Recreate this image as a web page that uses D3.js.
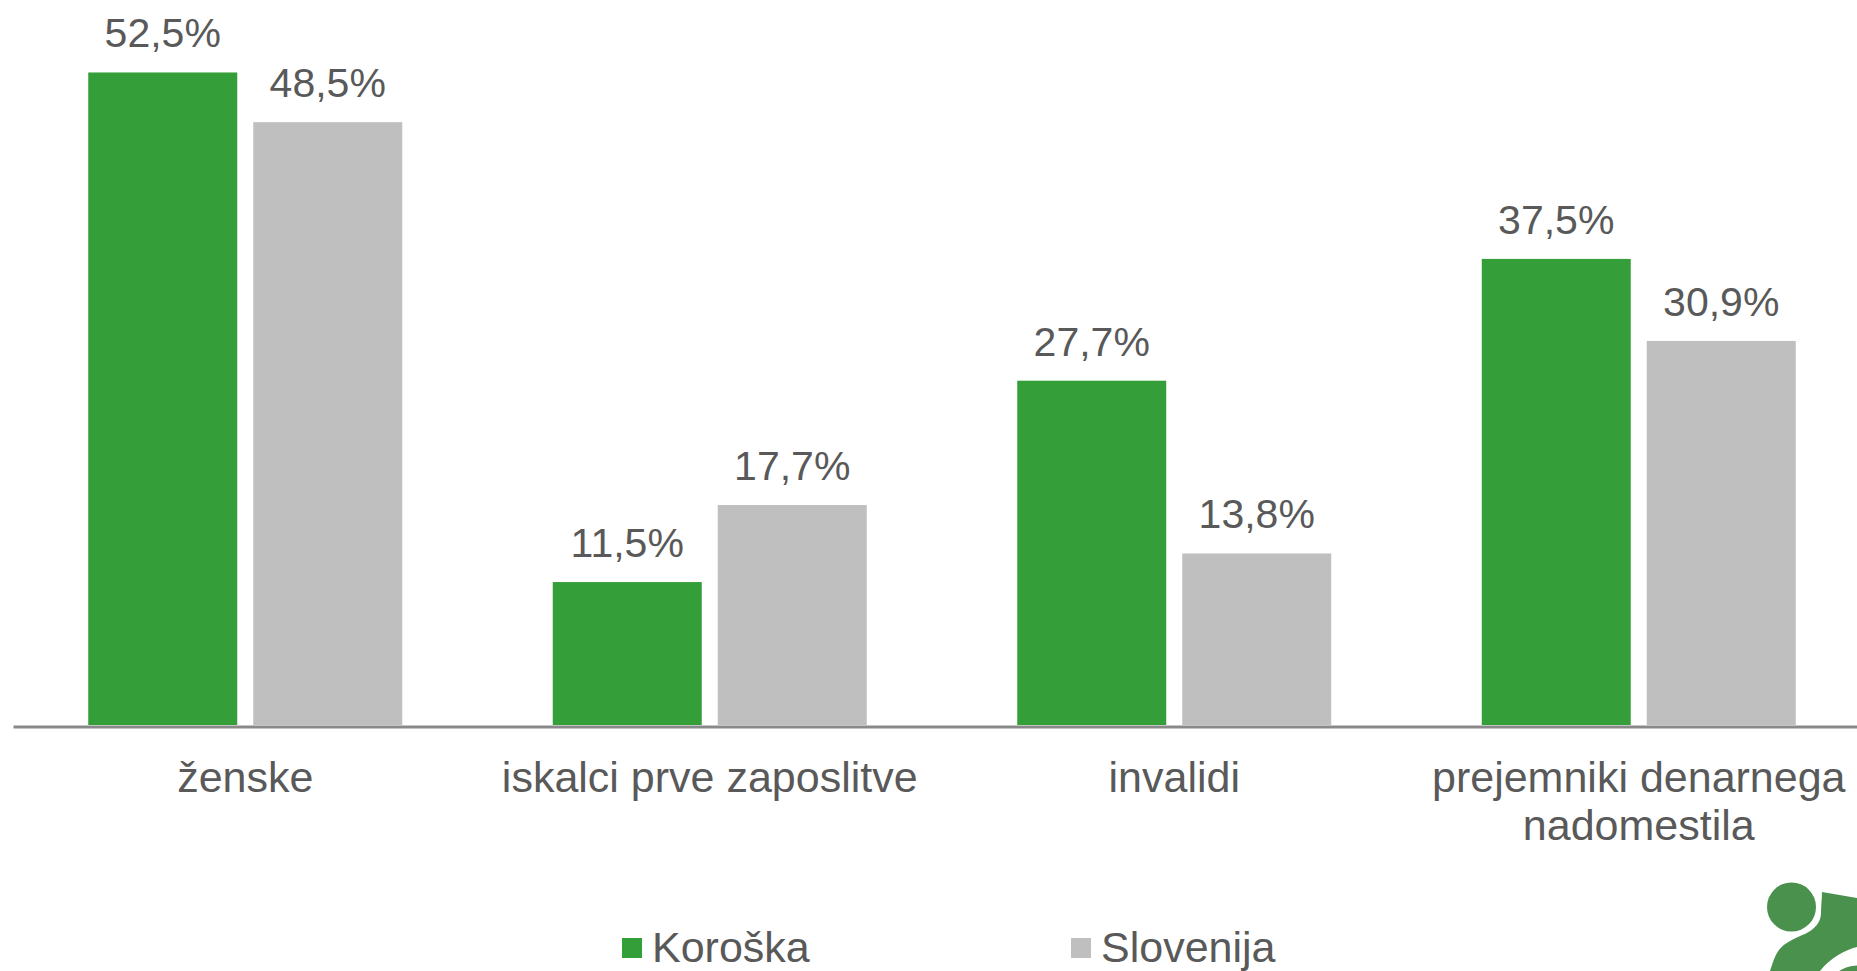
<!DOCTYPE html>
<html>
<head>
<meta charset="utf-8">
<script src="https://cdn.jsdelivr.net/npm/d3@7"></script>
<style>
  html, body { margin: 0; padding: 0; background: #fff; }
  svg { display: block; }
  text { font-family: "Liberation Sans", Arial, sans-serif; fill: #595959; }
</style>
</head>
<body>
<div id="wrapper"></div>
<script>
// data
const categories = ["ženske", "iskalci prve zaposlitve", "invalidi", "prejemniki denarnega nadomestila"];
const seriesNames = ["Koroška", "Slovenija"];
const koroska = [52.5, 11.5, 27.7, 37.5];
const slovenija = [48.5, 17.7, 13.8, 30.9];
const seriesColors = ["#349e38", "#bfbfbf"];

function drawChart() {
    const width = 1857, height = 971;
    const axisY = 726.5;

    const wrapper = d3.select("#wrapper")
        .append("svg")
        .attr("width", width)
        .attr("height", height);

    // table built from the arrays
    const table = categories.map((c, i) => ({
        category: c,
        values: [
            { key: seriesNames[0], value: koroska[i] },
            { key: seriesNames[1], value: slovenija[i] }
        ]
    }));

    // scales
    const xScale = d3.scaleBand()
        .domain(categories)
        .range([13, 1871])
        .paddingInner(0.324)
        .paddingOuter(0.162);

    const x1Scale = d3.scaleBand()
        .domain(seriesNames)
        .range([0, xScale.bandwidth()])
        .paddingInner(0.097);

    const yScale = d3.scaleLinear()
        .domain([0, 58.25])
        .range([725, 1]);

    const colorScale = d3.scaleOrdinal().domain(seriesNames).range(seriesColors);

    const locale = d3.formatLocale({ decimal: ",", thousands: ".", grouping: [3], currency: ["", "€"] });
    const fmt = locale.format(".1f");

    // bars
    const groups = wrapper.selectAll("g.group")
        .data(table)
        .join("g")
        .attr("class", "group")
        .attr("transform", d => `translate(${xScale(d.category)},0)`);

    groups.selectAll("rect")
        .data(d => d.values)
        .join("rect")
        .attr("x", d => x1Scale(d.key))
        .attr("y", d => yScale(d.value))
        .attr("width", x1Scale.bandwidth())
        .attr("height", d => yScale(0) - yScale(d.value))
        .attr("fill", d => colorScale(d.key));

    groups.selectAll("text.val")
        .data(d => d.values)
        .join("text")
        .attr("class", "val")
        .attr("x", d => x1Scale(d.key) + x1Scale.bandwidth() / 2)
        .attr("y", d => yScale(d.value) - 25)
        .attr("text-anchor", "middle")
        .style("font-size", "41px")
        .text(d => fmt(d.value) + "%");

    // x axis
    const xAxis = d3.axisBottom(xScale).tickSize(0).tickSizeOuter(0);
    const axisG = wrapper.append("g")
        .attr("transform", `translate(0,${axisY})`)
        .call(xAxis);

    axisG.select(".domain")
        .attr("stroke", "#898989")
        .attr("stroke-width", 3);

    axisG.selectAll(".tick text")
        .attr("y", 0)
        .attr("dy", 0)
        .style("font-size", "43px")
        .style("font-family", "'Liberation Sans', Arial, sans-serif")
        .attr("fill", "#595959")
        .call(wrap, xScale.step() - 10);

    function wrap(texts, maxWidth) {
        texts.each(function () {
            const text = d3.select(this);
            const words = text.text().split(/\s+/);
            text.text(null);
            let line = [];
            let lineNo = 0;
            let tspan = text.append("tspan").attr("x", 0).attr("y", 65.5);
            words.forEach(w => {
                line.push(w);
                tspan.text(line.join(" "));
                if (tspan.node().getComputedTextLength() > maxWidth && line.length > 1) {
                    line.pop();
                    tspan.text(line.join(" "));
                    line = [w];
                    lineNo++;
                    tspan = text.append("tspan").attr("x", 0).attr("y", 65.5 + lineNo * 48).text(w);
                }
            });
        });
    }

    // legend
    const legendX = [622, 1071];
    const legend = wrapper.selectAll("g.legend")
        .data(seriesNames)
        .join("g")
        .attr("class", "legend")
        .attr("transform", (d, i) => `translate(${legendX[i]},938)`);

    legend.append("rect")
        .attr("width", 20)
        .attr("height", 20)
        .attr("fill", d => colorScale(d));

    legend.append("text")
        .attr("x", 30)
        .attr("y", 24)
        .style("font-size", "43px")
        .text(d => d);

    // logo in the corner
    const logo = wrapper.append("g").attr("fill", "#4a914d");
    logo.append("circle").attr("cx", 1791.5).attr("cy", 907).attr("r", 24.5);
    logo.append("path")
        .attr("d", "M1822,892 L1857,898 L1857,947 C1845,950 1830,958 1820,971 L1770,971 C1773,962 1775,955 1779,950 C1784,943 1795,938 1805,934 C1815,929 1821,922 1821,913 C1821,905 1822,898 1822,892 Z");
    logo.append("circle")
        .attr("cx", 1858).attr("cy", 1000).attr("r", 37)
        .attr("stroke", "#fff").attr("stroke-width", 5);
}
drawChart();
</script>
</body>
</html>
